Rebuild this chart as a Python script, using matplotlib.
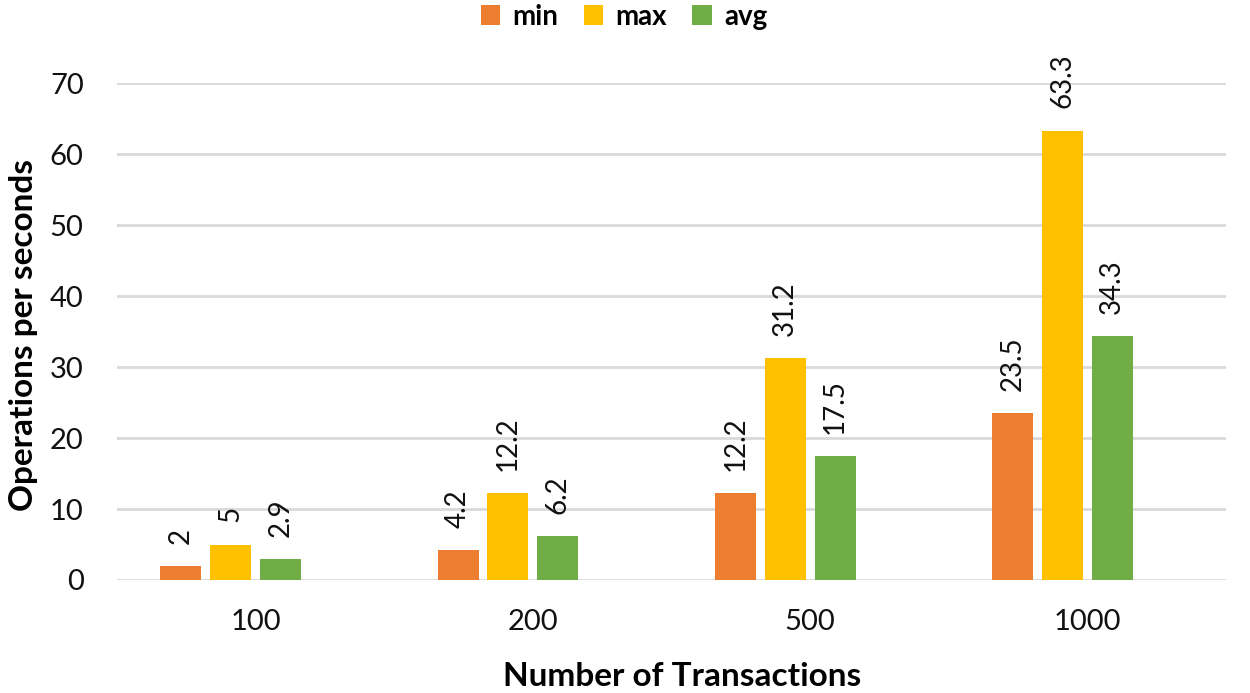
import matplotlib
matplotlib.use("Agg")
import matplotlib.pyplot as plt
import numpy as np

categories = ["100", "200", "500", "1000"]
series_names = ["min", "max", "avg"]
min_vals = [2, 4.2, 12.2, 23.5]
max_vals = [5, 12.2, 31.2, 63.3]
avg_vals = [2.9, 6.2, 17.5, 34.3]
colors = ["#ED7D31", "#FFC000", "#70AD47"]

plt.rcParams['font.family'] = ['Lato', 'DejaVu Sans']

fig = plt.figure(figsize=(12.5, 6.93), dpi=100)
ax = fig.add_axes([117/1250, 1-580/693, (1226-117)/1250, (580-83)/693])

x = np.arange(len(categories))
step = 0.18
width = 0.148
offsets = [-1.5, -0.5, 0.5]
handles = []
for vals, name, col, off in zip([min_vals, max_vals, avg_vals], series_names, colors, offsets):
    bars = ax.bar(x + off*step, vals, width, color=col, label=name, zorder=3)
    handles.append(bars)
    for b, v in zip(bars, vals):
        ax.annotate(f"{v:g}", (b.get_x()+b.get_width()/2, v), xytext=(0, 16),
                    textcoords="offset points", rotation=90, ha="center", va="bottom",
                    fontsize=20, color="#111111")

ax.set_xlim(-0.5, 3.5)
ax.set_ylim(0, 70)
ax.set_yticks(range(0, 71, 10))
ax.set_xticks(x)
ax.set_xticklabels(categories)
ax.tick_params(axis='both', length=0, labelsize=21, colors="#111111")
ax.tick_params(axis='x', pad=21)
ax.tick_params(axis='y', pad=24)
ax.yaxis.grid(True, color="#d9d9d9", linewidth=2, zorder=0)
for s in ax.spines.values():
    s.set_visible(False)
ax.set_axisbelow(True)

ax.set_xlabel("Number of Transactions", fontsize=24, fontweight="bold")
ax.xaxis.set_label_coords((682-117)/1109, -(676-580)/497)
ax.xaxis.label.set_va("center")
ax.set_ylabel("Operations per seconds", fontsize=24, fontweight="bold")
ax.yaxis.set_label_coords(-(117-24)/1109, (580-335)/497)
ax.yaxis.label.set_va("center")

fig.legend(handles=handles, labels=series_names, loc="upper center",
           bbox_to_anchor=(624/1250, 1.031), ncol=3, frameon=False,
           handlelength=0.7, handleheight=0.7, handletextpad=0.45, columnspacing=0.9,
           prop={'weight': 'bold', 'size': 20})

fig.savefig("out.png", dpi=100)
